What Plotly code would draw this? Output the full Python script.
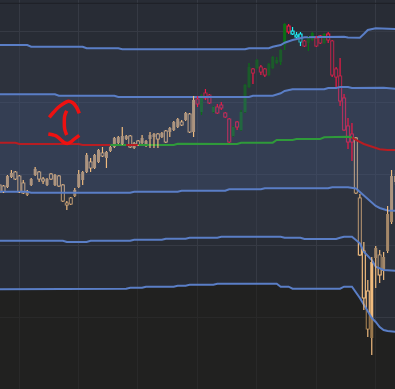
import plotly.graph_objects as go

# ---------------- candles (index, OHLC in price units) ----------------
idx = list(range(101))
# regime per candle: T = neutral (tan), G = trend (green/red), C = extreme (cyan)
regime = ("TTTTTTTTTTTTTTTTTTTTTTTTTTTTTTTTTTTTTTTTTTTTTTTTTT"
          "GGGGGGGGGGGGGGGGGGGGGGGG" "CCC" "GGGGGGGGGGGGG" "TTTTTTTTTTT")
opens = [21.5, 21.4, 21.3, 22.3, 22.8, 22.4, 21.7, 20.5, 21.5, 22.5,
         22.8, 22.1, 21.5, 22.6, 21.5, 22.4, 21.5, 19.7, 20.2, 20.4,
         21.3, 22.0, 22.8, 23.8, 23.2, 23.8, 24.7, 24.2, 24.9, 25.3,
         25.7, 25.6, 26.1, 26.4, 25.2, 25.9, 25.7, 25.4, 26.1, 26.3,
         26.6, 26.3, 26.9, 26.8, 27.0, 27.3, 27.8, 28.0, 28.6, 26.8,
         30.1, 28.8, 30.7, 30.5, 28.8, 29.3, 29.5, 28.7, 28.1, 26.4,
         27.8, 27.0, 28.8, 31.3, 33.1, 33.2, 33.3, 33.1, 32.5, 33.2,
         33.7, 33.8, 35.5, 37.4, 36.9, 36.5, 36.6, 35.9, 35.7, 36.0,
         36.2, 36.4, 35.7, 36.6, 35.9, 33.1, 32.4, 30.2, 27.4, 26.6,
         26.2, 20.2, 14.9, 10.9, 6.2, 14.2, 14.5, 12.9, 14.9, 17.8,
         21.8]
highs = [21.6, 21.5, 22.5, 23.0, 22.9, 22.5, 22.0, 21.0, 22.2, 23.3,
         22.9, 22.3, 22.2, 22.7, 22.6, 22.5, 21.6, 19.9, 20.3, 21.2,
         23.0, 22.9, 24.7, 24.2, 24.6, 25.1, 25.3, 24.9, 25.4, 26.3,
         26.4, 27.3, 26.5, 26.5, 25.8, 26.0, 26.5, 26.0, 26.8, 26.7,
         26.7, 26.8, 27.0, 27.3, 27.9, 28.2, 28.0, 28.8, 28.7, 30.4,
         30.4, 30.6, 31.1, 30.6, 29.4, 29.6, 29.8, 28.8, 28.2, 27.4,
         27.9, 29.0, 31.6, 33.7, 33.2, 34.1, 33.5, 33.2, 33.7, 34.4,
         34.3, 35.1, 37.7, 37.6, 37.3, 36.8, 36.8, 36.0, 36.4, 36.8,
         36.4, 36.5, 36.7, 36.8, 36.0, 33.3, 34.2, 30.6, 28.2, 27.7,
         26.3, 20.6, 15.8, 12.0, 14.3, 15.4, 15.0, 14.8, 19.4, 23.0,
         23.0]
lows = [20.7, 20.7, 21.2, 22.2, 22.0, 20.7, 20.6, 20.4, 21.4, 22.4,
        21.8, 21.6, 21.4, 22.0, 21.4, 21.3, 19.8, 19.0, 19.5, 20.3,
        21.2, 21.5, 22.7, 22.8, 23.1, 23.7, 24.3, 23.2, 24.8, 25.2,
        25.6, 25.5, 26.0, 25.2, 25.1, 25.4, 25.6, 25.3, 25.2, 25.2,
        25.2, 26.2, 25.7, 26.3, 26.9, 27.2, 27.4, 27.9, 26.7, 26.3,
        29.3, 28.5, 30.0, 29.6, 28.7, 28.6, 29.0, 28.2, 25.7, 26.3,
        27.0, 26.9, 28.7, 31.2, 31.6, 33.1, 32.5, 32.3, 32.4, 33.1,
        33.6, 33.5, 35.0, 36.6, 36.5, 36.2, 35.4, 35.3, 34.9, 35.9,
        35.3, 35.6, 35.6, 35.7, 32.3, 31.3, 29.4, 26.9, 25.1, 23.9,
        20.6, 14.4, 9.0, 6.3, 4.5, 11.2, 11.7, 12.0, 14.7, 17.6,
        21.5]
closes = [20.8, 20.8, 22.4, 22.7, 22.1, 20.8, 20.7, 20.9, 22.1, 23.1,
          22.1, 21.9, 22.1, 22.1, 22.5, 21.4, 19.9, 19.5, 19.6, 21.0,
          22.6, 22.8, 24.5, 23.2, 24.5, 25.0, 24.4, 24.8, 25.3, 26.2,
          26.3, 26.4, 26.4, 25.3, 25.7, 25.5, 26.2, 25.9, 26.5, 26.6,
          26.1, 26.7, 25.8, 27.2, 27.8, 28.1, 27.5, 28.7, 26.8, 30.0,
          29.6, 30.5, 30.2, 29.7, 29.3, 28.7, 29.2, 28.3, 25.8, 27.3,
          27.3, 28.8, 31.5, 33.3, 32.7, 34.0, 32.8, 32.5, 33.6, 34.3,
          34.0, 35.0, 37.6, 36.8, 36.6, 36.3, 35.8, 35.4, 36.3, 36.7,
          35.4, 35.7, 36.6, 36.0, 32.5, 32.3, 29.9, 27.0, 25.8, 25.8,
          20.7, 14.5, 10.2, 7.1, 13.8, 15.2, 12.5, 14.3, 18.6, 22.4,
          22.4]

# ---------------- band lines (index, price) ----------------
l1_x = [0, 7, 8, 21, 22, 30, 31, 37, 38, 49, 50, 62, 63, 68, 69, 71, 72, 74, 77, 82,
        83, 87, 88, 91, 92, 93, 95, 98, 100]
l1_y = [35.5, 35.5, 35.33, 35.33, 35.17, 35.17, 35.07, 35.07, 35.0, 35.0, 35.07, 35.07,
        35.17, 35.17, 35.33, 35.5, 35.73, 36.0, 36.27, 36.27, 36.33, 36.33, 36.25, 36.23,
        36.6, 37.0, 37.17, 37.17, 37.1]
l2_x = [0, 14, 15, 29, 30, 63, 64, 69, 71, 72, 74, 82, 83, 85, 86, 88, 89, 92, 93, 97, 100]
l2_y = [30.57, 30.57, 30.43, 30.43, 30.3, 30.3, 30.43, 30.43, 30.67, 30.9, 31.07, 31.07,
        31.2, 31.2, 31.3, 31.3, 31.2, 31.2, 31.23, 31.23, 31.13]
mid_x = [0, 4, 5, 20, 21, 28, 32, 35, 44, 45, 60, 61, 69, 70, 74, 75, 81, 82, 87, 88,
         89, 90, 92, 94, 96, 98, 100]
mid_y = [25.73, 25.73, 25.6, 25.6, 25.5, 25.5, 25.5, 25.5, 25.5, 25.63, 25.6, 25.73,
         25.73, 26.0, 26.0, 26.1, 26.1, 26.27, 26.27, 26.33, 26.25, 26.0, 25.6, 25.33,
         25.07, 25.0, 25.0]
# direction of the segment that starts at each mid point
mid_up = [0, 0, 0, 0, 0, 1, 0, 1, 1, 1, 1, 1, 1, 1, 1, 1, 1, 1, 1, 1,
          0, 0, 0, 0, 0, 0, 0]
l4_x = [0, 7, 8, 33, 34, 45, 46, 57, 58, 66, 67, 83, 84, 88, 90, 91, 92, 93, 94, 95,
        96, 97, 98, 100]
l4_y = [20.83, 20.83, 20.73, 20.73, 20.83, 20.83, 20.93, 20.93, 21.07, 21.07, 21.17,
        21.17, 21.27, 21.27, 21.15, 20.8, 20.4, 20.0, 19.7, 19.4, 19.2, 19.07, 18.95, 18.93]
l5_x = [0, 16, 17, 22, 23, 33, 34, 41, 42, 47, 48, 55, 56, 71, 72, 76, 77, 85, 86, 87,
        89, 91, 92, 94, 95, 97, 100]
l5_y = [15.93, 15.93, 15.8, 15.8, 15.93, 15.93, 16.03, 16.03, 16.13, 16.13, 16.23,
        16.23, 16.33, 16.33, 16.23, 16.23, 16.1, 16.1, 16.23, 16.33, 16.33, 15.67, 14.83,
        14.0, 13.33, 13.0, 12.93]
l6_x = [0, 27, 28, 32, 33, 36, 37, 44, 45, 47, 48, 54, 55, 70, 71, 73, 74, 86, 87, 89,
        91, 92, 93, 94, 95, 96, 97, 98, 100]
l6_y = [11.07, 11.07, 11.13, 11.13, 11.23, 11.23, 11.33, 11.33, 11.43, 11.43, 11.53,
        11.53, 11.63, 11.63, 11.33, 11.33, 11.13, 11.13, 11.33, 11.33, 10.2, 9.5, 8.8,
        8.2, 7.8, 7.3, 7.0, 6.9, 6.83]

# hand-drawn red mark
doodle_top_x = [12.57, 13.6, 14.8, 16.1, 17.4, 18.5, 19.4, 20.14]
doodle_top_y = [28.27, 28.75, 29.25, 29.62, 29.88, 29.72, 29.3, 28.67]
doodle_bot_x = [12.32, 13.6, 14.44, 15.4, 16.3, 17.12, 18.0, 18.9, 20.14]
doodle_bot_y = [26.6, 26.5, 26.38, 26.05, 25.75, 25.65, 25.8, 26.1, 26.47]
doodle_mid_x = [16.96, 16.45, 16.36, 16.45, 16.96]
doodle_mid_y = [28.93, 28.4, 27.8, 27.1, 26.5]

# ---------------- colours ----------------
BG = "#282c35"
GRID = "#363a44"
BAND = "#5a7ec6"
TAN = "#f0bb7e"
GREEN = "#0a7015"
RED = "#f21846"
CYAN = "#1ef0fa"
MID_UP = "#2f9a3a"
MID_DN = "#b81d22"
CLEAR = "rgba(0,0,0,0)"

# up = filled, down = hollow
STYLE = {
    ("T", True): (TAN, TAN), ("T", False): (CLEAR, TAN),
    ("G", True): (GREEN, GREEN), ("G", False): (CLEAR, RED),
    ("C", True): (CLEAR, CYAN), ("C", False): (CLEAR, CYAN),
}

fig = go.Figure()

band_line = dict(color=BAND, width=2)
fig.add_trace(go.Scatter(x=l6_x, y=l6_y, mode="lines", line=band_line,
                         fill="tozeroy", fillcolor="rgba(23,17,3,0.4)", hoverinfo="skip"))
fig.add_trace(go.Scatter(x=l5_x, y=l5_y, mode="lines", line=band_line, hoverinfo="skip"))
fig.add_trace(go.Scatter(x=l4_x, y=l4_y, mode="lines", line=band_line,
                         fill="tonexty", fillcolor="rgba(53,59,76,0.4)", hoverinfo="skip"))
fig.add_trace(go.Scatter(x=l2_x, y=l2_y, mode="lines", line=band_line,
                         fill="tonexty", fillcolor="rgba(70,89,131,0.4)", hoverinfo="skip"))
fig.add_trace(go.Scatter(x=l1_x, y=l1_y, mode="lines", line=band_line,
                         fill="tonexty", fillcolor="rgba(53,59,76,0.4)", hoverinfo="skip"))

# middle line, coloured by direction
seg_x, seg_y = [mid_x[0]], [mid_y[0]]
cur = mid_up[0]
for k in range(1, len(mid_x)):
    seg_x.append(mid_x[k]); seg_y.append(mid_y[k])
    nxt = mid_up[k]
    if nxt != cur or k == len(mid_x) - 1:
        fig.add_trace(go.Scatter(x=seg_x, y=seg_y, mode="lines",
                                 line=dict(color=MID_UP if cur else MID_DN, width=2),
                                 hoverinfo="skip"))
        seg_x, seg_y = [mid_x[k]], [mid_y[k]]
        cur = nxt

for dx, dy in ((doodle_top_x, doodle_top_y), (doodle_bot_x, doodle_bot_y),
               (doodle_mid_x, doodle_mid_y)):
    fig.add_trace(go.Scatter(x=dx, y=dy, mode="lines",
                             line=dict(color="#ee1111", width=3.5, shape="spline"),
                             hoverinfo="skip"))

# ---- candles: wicks (scatter segments per colour) + bodies (bars) ----
wicks = {}
body_base, body_h, body_fill, body_line, body_lw = [], [], [], [], []
for i in idx:
    up = closes[i] >= opens[i]
    fill, line = STYLE[(regime[i], up)]
    top, bot = max(opens[i], closes[i]), min(opens[i], closes[i])
    wx, wy = wicks.setdefault(line, ([], []))
    wx += [i, i, None, i, i, None]
    wy += [highs[i], top, None, bot, lows[i], None]
    hollow = fill == CLEAR
    body_base.append(bot)
    body_h.append(max(top - bot, 0.15))
    body_fill.append(fill)
    body_line.append(line)
    body_lw.append(1.2 if hollow else 0)

for col, (wx, wy) in wicks.items():
    fig.add_trace(go.Scatter(x=wx, y=wy, mode="lines", line=dict(color=col, width=1.2),
                             hoverinfo="skip"))

fig.add_trace(go.Bar(x=idx, y=body_h, base=body_base, width=0.76,
                     marker=dict(color=body_fill,
                                 line=dict(color=body_line, width=body_lw)),
                     hoverinfo="skip"))

fig.add_shape(type="line", xref="paper", yref="paper", x0=0, x1=1,
              y0=0.9915, y1=0.9915, line=dict(color="#1d2026", width=1))

fig.update_layout(
    width=395, height=389, margin=dict(l=0, r=0, t=0, b=0),
    paper_bgcolor=BG, plot_bgcolor=BG, showlegend=False,
    xaxis=dict(range=[0.12, 99.87], tick0=4.92, dtick=15, showgrid=True,
               gridcolor=GRID, gridwidth=1, zeroline=False, showline=False,
               showticklabels=False, ticks=""),
    yaxis=dict(range=[1.1, 40], tick0=1.15, dtick=7.15, showgrid=True,
               gridcolor=GRID, gridwidth=1, zeroline=False, showline=False,
               showticklabels=False, ticks=""),
)

fig.write_html("out.html")
